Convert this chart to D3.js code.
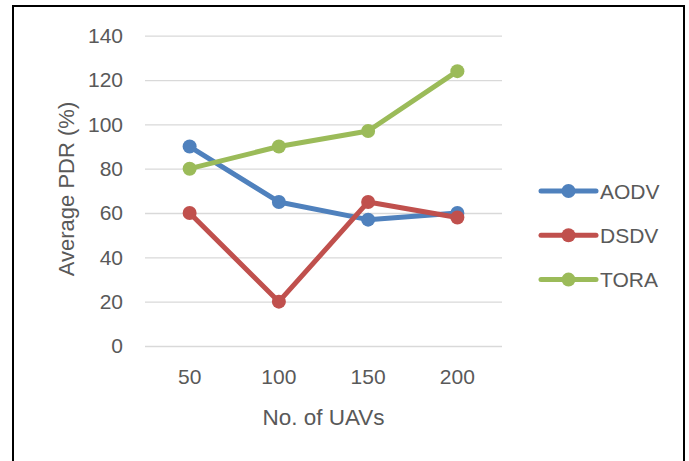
<!DOCTYPE html>
<html>
<head>
<meta charset="utf-8">
<script src="https://cdn.jsdelivr.net/npm/d3@7/dist/d3.min.js"></script>
<style>
  body { margin: 0; background: #fff; }
  svg text { font-family: 'Liberation Sans', Arial, sans-serif; fill: #595959; }
</style>
</head>
<body>
<svg id="chart" width="689" height="461"></svg>
<script>
const categories = ['50', '100', '150', '200']
const yTicks = [0, 20, 40, 60, 80, 100, 120, 140]
const aodv = [90, 65, 57, 60]
const dsdv = [60, 20, 65, 58]
const tora = [80, 90, 97, 124]
const seriesNames = ['AODV', 'DSDV', 'TORA']
const colors = ['#4F81BD', '#C0504D', '#9BBB59']

const width = 689
const height = 461
const svg = d3.select('#chart')

// outer frame (no bottom edge visible in the reference)
svg.append('path')
  .attr('d', `M13,${height + 2} V6 H684 V${height + 2}`)
  .attr('fill', 'none')
  .attr('stroke', '#000')
  .attr('stroke-width', 2)

const margin = { top: 35.7, left: 145, right: 187, bottom: 115 }
const innerW = width - margin.left - margin.right
const innerH = 346 - margin.top

const g = svg.append('g').attr('transform', `translate(${margin.left},${margin.top})`)

const x = d3.scaleBand().domain(categories).range([0, innerW])
const y = d3.scaleLinear().domain([0, 140]).range([innerH, 0])

// gridlines + y labels
const yAxis = g.append('g')
  .call(d3.axisLeft(y).tickValues(yTicks).tickSize(-innerW).tickPadding(22))
yAxis.select('.domain').remove()
yAxis.selectAll('.tick line').attr('stroke', '#D9D9D9').attr('stroke-width', 1.3)
yAxis.selectAll('.tick text').attr('font-size', 21).attr('fill', '#595959')

// x labels
const xAxis = g.append('g').attr('transform', `translate(0,${innerH})`)
  .call(d3.axisBottom(x).tickSize(0).tickPadding(23))
xAxis.select('.domain').remove()
xAxis.selectAll('.tick text').attr('font-size', 21).attr('fill', '#595959')

// axis titles
svg.append('text')
  .attr('x', margin.left + innerW / 2)
  .attr('y', 425)
  .attr('text-anchor', 'middle')
  .attr('font-size', 22.5)
  .text('No. of UAVs')

svg.append('text')
  .attr('transform', 'translate(74,189) rotate(-90)')
  .attr('text-anchor', 'middle')
  .attr('font-size', 22)
  .text('Average PDR (%)')

// lines
const data = [aodv, dsdv, tora]
const line = d3.line()
  .x((d, i) => x(categories[i]) + x.bandwidth() / 2)
  .y(d => y(d))

data.forEach((vals, s) => {
  g.append('path')
    .datum(vals)
    .attr('d', line)
    .attr('fill', 'none')
    .attr('stroke', colors[s])
    .attr('stroke-width', 5)
    .attr('stroke-linejoin', 'round')
    .attr('stroke-linecap', 'round')
  g.selectAll(null)
    .data(vals)
    .enter()
    .append('circle')
    .attr('cx', (d, i) => x(categories[i]) + x.bandwidth() / 2)
    .attr('cy', d => y(d))
    .attr('r', 7)
    .attr('fill', colors[s])
})

// legend
const legend = svg.append('g').attr('transform', 'translate(541,191)')
seriesNames.forEach((name, i) => {
  const ly = i * 44.3
  legend.append('line')
    .attr('x1', 0).attr('x2', 55)
    .attr('y1', ly).attr('y2', ly)
    .attr('stroke', colors[i])
    .attr('stroke-width', 5)
    .attr('stroke-linecap', 'round')
  legend.append('circle')
    .attr('cx', 27.5).attr('cy', ly).attr('r', 7)
    .attr('fill', colors[i])
  legend.append('text')
    .attr('x', 59).attr('y', ly + 7.5)
    .attr('font-size', 21)
    .text(name)
})
</script>
</body>
</html>
